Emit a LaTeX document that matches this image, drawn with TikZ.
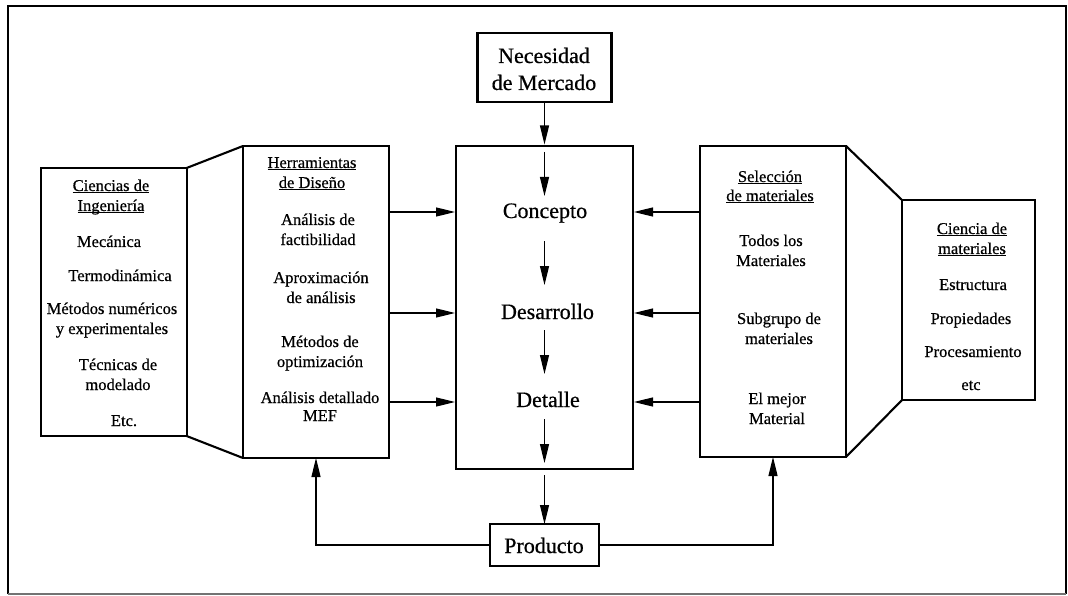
\documentclass[tikz,border=0pt]{standalone}
\usepackage{fontspec}
% regular weight, with a light artificial emboldening in the bold slot
\setmainfont{Liberation Serif}[BoldFont={Liberation Serif},BoldFeatures={FakeBold=0.6}]
\usetikzlibrary{arrows.meta}
% underline at a fixed depth, crossing descenders
\newcommand{\uln}[1]{\leavevmode\setbox0=\hbox{#1}\rlap{\rule[-2.4pt]{\wd0}{1pt}}\box0}
\begin{document}
\begin{tikzpicture}[x=1pt,y=-1pt,
  box/.style={draw,line width=2.1pt,inner sep=0pt,outer sep=0pt},
  bigbox/.style={draw,line width=2.8pt,inner sep=0pt,outer sep=0pt},
  tx/.style={anchor=base,inner sep=0pt,font=\fontsize{16.5}{20}\selectfont\bfseries},
  big/.style={anchor=base,inner sep=0pt,font=\fontsize{22}{27}\selectfont\bfseries},
  arr/.style={line width=1.2pt,-{Triangle[length=19pt,width=9pt]}},
  link/.style={line width=2.1pt}]
\useasboundingbox (0,0) rectangle (1068,596);
\fill[white] (0,0) rectangle (1068,596);
% outer frame
\draw[line width=2.8pt] (8,594) -- (8,6) -- (1066,6) -- (1066,594);
\draw[line width=1.4pt,black!55] (8,594) -- (1066,594);

% boxes
\node[box,minimum width=146,minimum height=268] (cing) at (113.6,302) {};
\node[box,minimum width=146,minimum height=312] (herr) at (316,302) {};
\node[bigbox,minimum width=177,minimum height=323] (centro) at (544.5,307.5) {};
\node[box,minimum width=134,minimum height=69] (nec) at (544.5,67.5) {};
\node[box,minimum width=109,minimum height=42] (prod) at (544.5,545) {};
\node[box,minimum width=146,minimum height=311] (sel) at (773,301.5) {};
\node[box,minimum width=133,minimum height=200] (cmat) at (968.5,300) {};

% joining lines between side boxes
\draw[link] (cing.north east) -- (herr.north west);
\draw[link] (cing.south east) -- (herr.south west);
\draw[link] (sel.north east) -- (cmat.north west);
\draw[link] (sel.south east) -- (cmat.south west);

% central texts
\node[big] (necA) at (544,63) {Necesidad};
\node[big] (necB) at (544,90) {de Mercado};
\node[big] (concepto) at (545,218) {Concepto};
\node[big] (desarrollo) at (547.5,319) {Desarrollo};
\node[big] (detalle) at (548,407) {Detalle};
\node[big] (producto) at (544,553) {Producto};

% Ciencias de Ingenieria
\node[tx] (ci1) at (111,191) {\uln{Ciencias de}};
\node[tx] (ci2) at (111,211) {\uln{Ingeniería}};
\node[tx] (ci3) at (109,247) {Mecánica};
\node[tx] (ci4) at (120,281) {Termodinámica};
\node[tx] (ci5) at (112,314) {Métodos numéricos};
\node[tx] (ci6) at (112,334) {y experimentales};
\node[tx] (ci7) at (118,370) {Técnicas de};
\node[tx] (ci8) at (118,390) {modelado};
\node[tx] (ci9) at (124,426) {Etc.};

% Herramientas de Diseno
\node[tx] (he1) at (312,168) {\uln{Herramientas}};
\node[tx] (he2) at (312,188) {\uln{de Diseño}};
\node[tx] (he3) at (318,225) {Análisis de};
\node[tx] (he4) at (318,245) {factibilidad};
\node[tx] (he5) at (321,283) {Aproximación};
\node[tx] (he6) at (321,303) {de análisis};
\node[tx] (he7) at (320,347) {Métodos de};
\node[tx] (he8) at (320,367) {optimización};
\node[tx] (he9) at (320,403) {Análisis detallado};
\node[tx] (he10) at (320,421) {MEF};

% Seleccion de materiales
\node[tx] (se1) at (770,182) {\uln{Selección}};
\node[tx] (se2) at (770,201) {\uln{de materiales}};
\node[tx] (se3) at (771,246) {Todos los};
\node[tx] (se4) at (771,266) {Materiales};
\node[tx] (se5) at (779,324) {Subgrupo de};
\node[tx] (se6) at (779,344) {materiales};
\node[tx] (se7) at (777,404) {El mejor};
\node[tx] (se8) at (777,424) {Material};

% Ciencia de materiales
\node[tx] (cm1) at (972,234) {\uln{Ciencia de}};
\node[tx] (cm2) at (972,254) {\uln{materiales}};
\node[tx] (cm3) at (973,290) {Estructura};
\node[tx] (cm4) at (971,324) {Propiedades};
\node[tx] (cm5) at (973,357) {Procesamiento};
\node[tx] (cm6) at (971,390) {etc};

% arrow levels
\coordinate (lv1) at (0,212);
\coordinate (lv2) at (0,313);
\coordinate (lv3) at (0,402);

% vertical flow
\draw[arr,shorten >=1.5pt] (nec.south) -- (centro.north);
\coordinate (v1a) at (544.5,152);  \coordinate (v1b) at (544.5,196);
\coordinate (v2a) at (544.5,241);  \coordinate (v2b) at (544.5,285);
\coordinate (v3a) at (544.5,330);  \coordinate (v3b) at (544.5,374);
\coordinate (v4a) at (544.5,419);  \coordinate (v4b) at (544.5,463);
\coordinate (v5a) at (544.5,475);
\draw[arr] (v1a) -- (v1b);
\draw[arr] (v2a) -- (v2b);
\draw[arr] (v3a) -- (v3b);
\draw[arr] (v4a) -- (v4b);
\draw[arr] (v5a) -- (prod.north);

% side inputs
\draw[arr,shorten >=1pt] (herr.east |- lv1) -- (centro.west |- lv1);
\draw[arr,shorten >=1pt] (herr.east |- lv2) -- (centro.west |- lv2);
\draw[arr,shorten >=1pt] (herr.east |- lv3) -- (centro.west |- lv3);
\draw[arr,shorten >=1pt] (sel.west |- lv1) -- (centro.east |- lv1);
\draw[arr,shorten >=1pt] (sel.west |- lv2) -- (centro.east |- lv2);
\draw[arr,shorten >=1pt] (sel.west |- lv3) -- (centro.east |- lv3);

% feedback from the product
\draw[arr] (prod.west) -| (herr.south);
\draw[arr] (prod.east) -| (sel.south);
\end{tikzpicture}
\end{document}
